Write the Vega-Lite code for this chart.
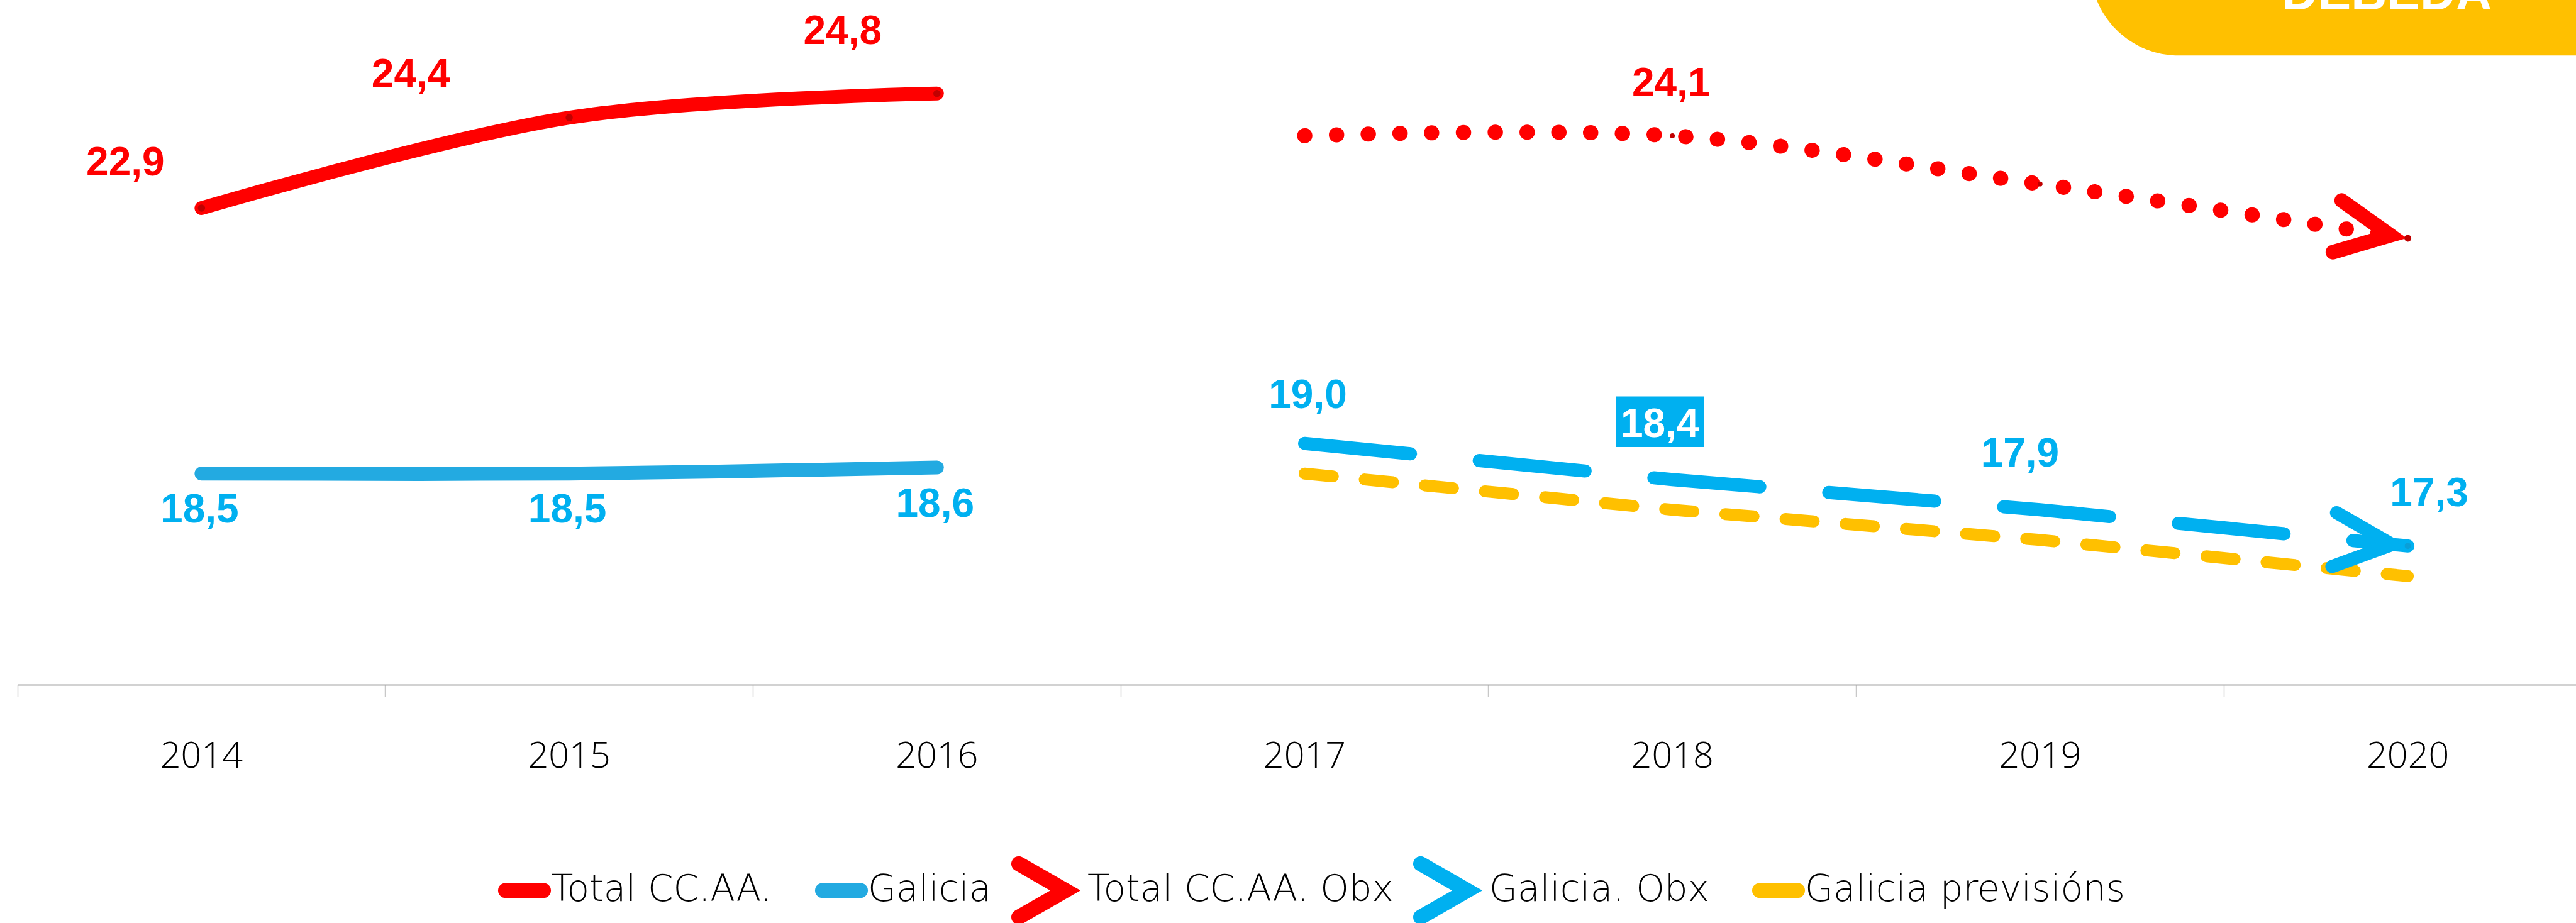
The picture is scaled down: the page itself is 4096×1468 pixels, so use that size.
{
  "$schema": "https://vega.github.io/schema/vega-lite/v6.json",
  "width": 4068,
  "height": 1089,
  "autosize": {"type": "none"},
  "padding": {"left": 28, "top": 0, "right": 0, "bottom": 379},
  "background": "white",
  "config": {
    "view": {"stroke": null},
    "locale": {"number": {"decimal": ",", "thousands": ".", "grouping": [3], "currency": ["", " €"]}},
    "legend": {
      "orient": "none", "legendX": 754, "legendY": 1364, "direction": "horizontal",
      "symbolSize": 6400, "symbolStrokeWidth": 24,
      "labelFont": "DejaVu Sans", "labelFontSize": 58, "labelFontWeight": 200, "labelColor": "#000000",
      "labelOffset": -10, "columnPadding": -5, "padding": 0, "labelLimit": 1000
    }
  },
  "datasets": {
    "d": [
      {"series": "Total CC.AA.", "year": "2014", "value": 22.9},
      {"series": "Total CC.AA.", "year": "2015", "value": 24.4},
      {"series": "Total CC.AA.", "year": "2016", "value": 24.8},
      {"series": "Galicia", "year": "2014", "value": 18.5},
      {"series": "Galicia", "year": "2015", "value": 18.5},
      {"series": "Galicia", "year": "2016", "value": 18.6},
      {"series": "Total CC.AA. Obx", "year": "2017", "value": 24.1},
      {"series": "Total CC.AA. Obx", "year": "2018", "value": 24.1},
      {"series": "Total CC.AA. Obx", "year": "2019", "value": 23.3},
      {"series": "Total CC.AA. Obx", "year": "2020", "value": 22.4},
      {"series": "Galicia. Obx", "year": "2017", "value": 19.0},
      {"series": "Galicia. Obx", "year": "2018", "value": 18.4},
      {"series": "Galicia. Obx", "year": "2019", "value": 17.9},
      {"series": "Galicia. Obx", "year": "2020", "value": 17.3},
      {"series": "Galicia previsións", "year": "2017", "value": 18.5},
      {"series": "Galicia previsións", "year": "2018", "value": 17.9},
      {"series": "Galicia previsións", "year": "2019", "value": 17.4},
      {"series": "Galicia previsións", "year": "2020", "value": 16.8}
    ]
  },
  "data": {"name": "d"},
  "encoding": {
    "x": {
      "field": "year",
      "type": "ordinal",
      "bandPosition": 0.5,
      "scale": {
        "type": "band",
        "domain": ["2014", "2015", "2016", "2017", "2018", "2019", "2020"],
        "range": [0, 4093],
        "paddingInner": 0,
        "paddingOuter": 0
      },
      "axis": {
        "title": null,
        "bandPosition": 0,
        "grid": false,
        "domainColor": "#A6A6A6",
        "domainWidth": 2,
        "tickColor": "#C8C8C8",
        "tickWidth": 1.5,
        "tickSize": 19,
        "labelFont": "Open Sans",
        "labelFontSize": 57.5,
        "labelFontWeight": 300,
        "labelColor": "#000000",
        "labelBaseline": "alphabetic",
        "labelPadding": 112,
        "labelAngle": 0,
        "labelFlush": false
      }
    },
    "y": {
      "field": "value",
      "type": "quantitative",
      "scale": {"domain": [15, 26.35], "zero": false, "nice": false},
      "axis": null
    }
  },
  "layer": [
    {
      "transform": [{"filter": "datum.series == 'Galicia. Obx' && datum.year == '2019'"}],
      "mark": {"type": "point", "shape": "M0,-3L0,-1.4C0,-0.627 0.627,0 1.4,0L9,0L9,-3Z", "size": 40000, "filled": true, "fill": "#FFC000", "strokeWidth": 0, "opacity": 1},
      "encoding": {
        "x": {"field": "year", "type": "ordinal", "bandPosition": 0.637},
        "y": {"datum": 25.43, "type": "quantitative"}
      }
    },
    {
      "transform": [{"filter": "datum.series == 'Galicia. Obx' && datum.year == '2020'"}],
      "mark": {"type": "text", "text": "DÉBEDA", "color": "#FFFFFF", "font": "Liberation Sans", "fontWeight": "bold", "fontSize": 79, "baseline": "alphabetic", "align": "center"},
      "encoding": {
        "x": {"field": "year", "type": "ordinal", "bandPosition": 0.443},
        "y": {"datum": 26.197, "type": "quantitative"}
      }
    },
    {
      "transform": [{"filter": "datum.series == 'Galicia previsións'"}],
      "mark": {"type": "line", "strokeWidth": 19, "strokeCap": "round", "strokeDash": [45, 51], "interpolate": "linear"},
      "encoding": {
        "color": {
          "field": "series", "type": "nominal",
          "scale": {"domain": ["Total CC.AA.", "Galicia", "Total CC.AA. Obx", "Galicia. Obx", "Galicia previsións"], "range": ["#FF0000", "#23AAE1", "#FF0000", "#00B0F0", "#FFC000"]},
          "legend": {
            "title": null,
            "encode": {"symbols": {"update": {
              "shape": {"signal": "indexof(datum.value, 'Obx') >= 0 ? 'M-1.675,-1.06L0.175,0L-1.675,1.06' : 'M-1.675,-1.06M-1.675,1.06M-0.75,0L0.75,0'"},
              "size": {"value": 6400},
              "strokeCap": {"value": "round"},
              "strokeJoin": {"value": "miter"},
              "strokeDash": {"value": []},
              "strokeWidth": {"value": 24},
              "fill": {"value": "transparent"},
              "opacity": {"value": 1}
            }}}
          }
        }
      }
    },
    {
      "transform": [{"filter": "datum.series == 'Galicia. Obx'"}],
      "mark": {"type": "line", "strokeWidth": 21, "strokeCap": "round", "strokeDash": [169, 110], "interpolate": "linear"},
      "encoding": {
        "color": {
          "field": "series", "type": "nominal",
          "scale": {"domain": ["Total CC.AA.", "Galicia", "Total CC.AA. Obx", "Galicia. Obx", "Galicia previsións"], "range": ["#FF0000", "#23AAE1", "#FF0000", "#00B0F0", "#FFC000"]},
          "legend": {
            "title": null,
            "encode": {"symbols": {"update": {
              "shape": {"signal": "indexof(datum.value, 'Obx') >= 0 ? 'M-1.675,-1.06L0.175,0L-1.675,1.06' : 'M-1.675,-1.06M-1.675,1.06M-0.75,0L0.75,0'"},
              "size": {"value": 6400},
              "strokeCap": {"value": "round"},
              "strokeJoin": {"value": "miter"},
              "strokeDash": {"value": []},
              "strokeWidth": {"value": 24},
              "fill": {"value": "transparent"},
              "opacity": {"value": 1}
            }}}
          }
        }
      }
    },
    {
      "transform": [{"filter": "datum.series == 'Total CC.AA. Obx'"}],
      "mark": {"type": "line", "strokeWidth": 24, "strokeCap": "round", "strokeDash": [0.5, 50], "interpolate": "cardinal"},
      "encoding": {
        "color": {
          "field": "series", "type": "nominal",
          "scale": {"domain": ["Total CC.AA.", "Galicia", "Total CC.AA. Obx", "Galicia. Obx", "Galicia previsións"], "range": ["#FF0000", "#23AAE1", "#FF0000", "#00B0F0", "#FFC000"]},
          "legend": {
            "title": null,
            "encode": {"symbols": {"update": {
              "shape": {"signal": "indexof(datum.value, 'Obx') >= 0 ? 'M-1.675,-1.06L0.175,0L-1.675,1.06' : 'M-1.675,-1.06M-1.675,1.06M-0.75,0L0.75,0'"},
              "size": {"value": 6400},
              "strokeCap": {"value": "round"},
              "strokeJoin": {"value": "miter"},
              "strokeDash": {"value": []},
              "strokeWidth": {"value": 24},
              "fill": {"value": "transparent"},
              "opacity": {"value": 1}
            }}}
          }
        }
      }
    },
    {
      "transform": [{"filter": "datum.series == 'Galicia'"}],
      "mark": {"type": "line", "strokeWidth": 22, "strokeCap": "round", "interpolate": "cardinal"},
      "encoding": {
        "color": {
          "field": "series", "type": "nominal",
          "scale": {"domain": ["Total CC.AA.", "Galicia", "Total CC.AA. Obx", "Galicia. Obx", "Galicia previsións"], "range": ["#FF0000", "#23AAE1", "#FF0000", "#00B0F0", "#FFC000"]},
          "legend": {
            "title": null,
            "encode": {"symbols": {"update": {
              "shape": {"signal": "indexof(datum.value, 'Obx') >= 0 ? 'M-1.675,-1.06L0.175,0L-1.675,1.06' : 'M-1.675,-1.06M-1.675,1.06M-0.75,0L0.75,0'"},
              "size": {"value": 6400},
              "strokeCap": {"value": "round"},
              "strokeJoin": {"value": "miter"},
              "strokeDash": {"value": []},
              "strokeWidth": {"value": 24},
              "fill": {"value": "transparent"},
              "opacity": {"value": 1}
            }}}
          }
        }
      }
    },
    {
      "transform": [{"filter": "datum.series == 'Total CC.AA.'"}],
      "mark": {"type": "line", "strokeWidth": 22, "strokeCap": "round", "interpolate": "cardinal"},
      "encoding": {
        "color": {
          "field": "series", "type": "nominal",
          "scale": {"domain": ["Total CC.AA.", "Galicia", "Total CC.AA. Obx", "Galicia. Obx", "Galicia previsións"], "range": ["#FF0000", "#23AAE1", "#FF0000", "#00B0F0", "#FFC000"]},
          "legend": {
            "title": null,
            "encode": {"symbols": {"update": {
              "shape": {"signal": "indexof(datum.value, 'Obx') >= 0 ? 'M-1.675,-1.06L0.175,0L-1.675,1.06' : 'M-1.675,-1.06M-1.675,1.06M-0.75,0L0.75,0'"},
              "size": {"value": 6400},
              "strokeCap": {"value": "round"},
              "strokeJoin": {"value": "miter"},
              "strokeDash": {"value": []},
              "strokeWidth": {"value": 24},
              "fill": {"value": "transparent"},
              "opacity": {"value": 1}
            }}}
          }
        }
      }
    },
    {
      "transform": [{"filter": "datum.series == 'Total CC.AA.'"}],
      "mark": {"type": "circle", "color": "#C00000", "size": 133, "opacity": 1}
    },
    {
      "transform": [{"filter": "datum.series == 'Total CC.AA. Obx' && datum.year != '2017' && datum.year != '2020'"}],
      "mark": {"type": "circle", "color": "#C00000", "size": 60, "opacity": 1}
    },
    {
      "transform": [{"filter": "datum.series == 'Total CC.AA. Obx' && datum.year == '2020'"}],
      "mark": {"type": "point", "shape": "M-2.35,-0.86L-0.58,0L-2.35,0.86", "size": 9400, "filled": false, "stroke": "#FF0000", "strokeWidth": 23, "strokeCap": "round", "strokeJoin": "miter", "angle": 9.6, "opacity": 1}
    },
    {
      "transform": [{"filter": "datum.series == 'Galicia. Obx' && datum.year == '2020'"}],
      "mark": {"type": "point", "shape": "M-2.35,-0.86L-0.5,0L-2.35,0.86", "size": 10000, "filled": false, "stroke": "#00B0F0", "strokeWidth": 21, "strokeCap": "round", "strokeJoin": "miter", "angle": 4.9, "opacity": 1}
    },
    {
      "transform": [{"filter": "datum.series == 'Total CC.AA. Obx' && datum.year == '2020'"}],
      "mark": {"type": "circle", "color": "#C00000", "size": 120, "opacity": 1}
    },
    {
      "transform": [{"filter": "datum.series == 'Galicia. Obx' && datum.year == '2020'"}],
      "mark": {"type": "circle", "color": "#0A9FD8", "size": 100, "opacity": 1}
    },
    {
      "transform": [{"filter": "datum.series == 'Galicia. Obx' && datum.year == '2018'"}],
      "mark": {"type": "point", "shape": "M-1,-0.575L1,-0.575L1,0.575L-1,0.575Z", "size": 19600, "filled": true, "fill": "#00B0F0", "strokeWidth": 0, "xOffset": -20, "yOffset": -92, "opacity": 1}
    },
    {
      "transform": [{"filter": "datum.series == 'Total CC.AA.' && datum.year == '2014'"}],
      "mark": {"type": "text", "font": "Liberation Sans", "fontWeight": "bold", "fontSize": 64, "color": "#FF0000", "baseline": "alphabetic", "align": "center", "dx": -121, "dy": -52},
      "encoding": {"text": {"field": "value", "type": "quantitative", "format": ".1f"}}
    },
    {
      "transform": [{"filter": "datum.series == 'Total CC.AA.' && datum.year == '2015'"}],
      "mark": {"type": "text", "font": "Liberation Sans", "fontWeight": "bold", "fontSize": 64, "color": "#FF0000", "baseline": "alphabetic", "align": "center", "dx": -252, "dy": -48},
      "encoding": {"text": {"field": "value", "type": "quantitative", "format": ".1f"}}
    },
    {
      "transform": [{"filter": "datum.series == 'Total CC.AA.' && datum.year == '2016'"}],
      "mark": {"type": "text", "font": "Liberation Sans", "fontWeight": "bold", "fontSize": 64, "color": "#FF0000", "baseline": "alphabetic", "align": "center", "dx": -150, "dy": -79},
      "encoding": {"text": {"field": "value", "type": "quantitative", "format": ".1f"}}
    },
    {
      "transform": [{"filter": "datum.series == 'Galicia'"}],
      "mark": {"type": "text", "font": "Liberation Sans", "fontWeight": "bold", "fontSize": 64, "color": "#00B0F0", "baseline": "alphabetic", "align": "center", "dx": -3, "dy": 78},
      "encoding": {"text": {"field": "value", "type": "quantitative", "format": ".1f"}}
    },
    {
      "transform": [{"filter": "datum.series == 'Total CC.AA. Obx' && datum.year == '2018'"}],
      "mark": {"type": "text", "font": "Liberation Sans", "fontWeight": "bold", "fontSize": 64, "color": "#FF0000", "baseline": "alphabetic", "align": "center", "dx": -2, "dy": -63},
      "encoding": {"text": {"field": "value", "type": "quantitative", "format": ".1f"}}
    },
    {
      "transform": [{"filter": "datum.series == 'Galicia. Obx' && datum.year == '2017'"}],
      "mark": {"type": "text", "font": "Liberation Sans", "fontWeight": "bold", "fontSize": 64, "color": "#00B0F0", "baseline": "alphabetic", "align": "center", "dx": 5, "dy": -56},
      "encoding": {"text": {"field": "value", "type": "quantitative", "format": ".1f"}}
    },
    {
      "transform": [{"filter": "datum.series == 'Galicia. Obx' && datum.year == '2018'"}],
      "mark": {"type": "text", "font": "Liberation Sans", "fontWeight": "bold", "fontSize": 64, "color": "#FFFFFF", "baseline": "alphabetic", "align": "center", "dx": -20, "dy": -68},
      "encoding": {"text": {"field": "value", "type": "quantitative", "format": ".1f"}}
    },
    {
      "transform": [{"filter": "datum.series == 'Galicia. Obx' && datum.year == '2019'"}],
      "mark": {"type": "text", "font": "Liberation Sans", "fontWeight": "bold", "fontSize": 64, "color": "#00B0F0", "baseline": "alphabetic", "align": "center", "dx": -32, "dy": -69},
      "encoding": {"text": {"field": "value", "type": "quantitative", "format": ".1f"}}
    },
    {
      "transform": [{"filter": "datum.series == 'Galicia. Obx' && datum.year == '2020'"}],
      "mark": {"type": "text", "font": "Liberation Sans", "fontWeight": "bold", "fontSize": 64, "color": "#00B0F0", "baseline": "alphabetic", "align": "center", "dx": 34, "dy": -63},
      "encoding": {"text": {"field": "value", "type": "quantitative", "format": ".1f"}}
    }
  ]
}
